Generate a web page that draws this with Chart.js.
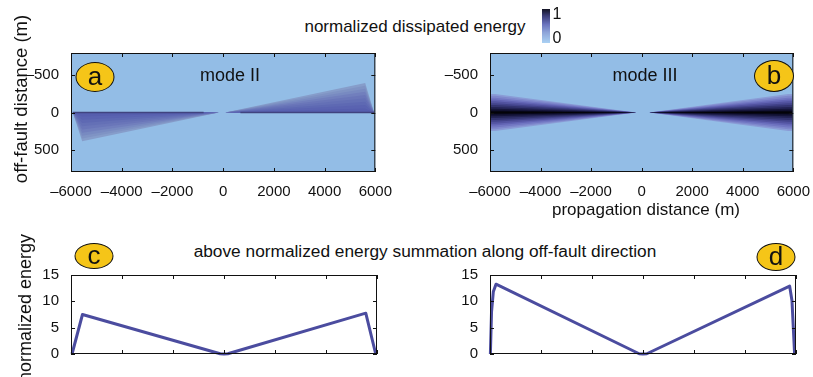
<!DOCTYPE html>
<html>
<head>
<meta charset="utf-8">
<script src="https://cdn.jsdelivr.net/npm/chart.js@4.4.1/dist/chart.umd.min.js"></script>
<style>
  body { margin: 0; width: 813px; height: 377px; overflow: hidden; background: #fff; position: relative;
         font-family: "Liberation Sans", Arial, sans-serif; color: #111; }
  canvas { position: absolute; }
  .txt { position: absolute; white-space: nowrap; font-size: 17px; transform: translate(-50%, -50%); }
  .rot { transform: translate(-50%, -50%) rotate(-90deg); }
  .tag { position: absolute; background: #f5c518; border: 1.5px solid #111; border-radius: 50%;
         box-sizing: border-box; transform: translate(-50%, -50%); font-size: 26px; line-height: 1;
         display: flex; align-items: center; justify-content: center; padding-bottom: 2px; }
  #cbar { position: absolute; left: 542px; top: 9px; width: 8px; height: 34px;
          background: linear-gradient(to top, #aad1f3, #8fa6da 30%, #6a73bd 55%, #3c3d78 80%, #141424); }
</style>
</head>
<body>

<canvas id="pa" width="395" height="170" style="left:0;top:40px"></canvas>
<canvas id="pb" width="413" height="170" style="left:400px;top:40px"></canvas>
<canvas id="pc" width="395" height="115" style="left:0;top:262px"></canvas>
<canvas id="pd" width="413" height="115" style="left:400px;top:262px"></canvas>

<div class="txt" style="left:415px;top:27px">normalized dissipated energy</div>
<div id="cbar"></div>
<div class="txt" style="left:557px;top:14px;font-size:16px">1</div>
<div class="txt" style="left:557px;top:38px;font-size:16px">0</div>
<div class="txt rot" style="left:21px;top:99px;font-size:18.5px">off-fault distance (m)</div>
<div class="txt" style="left:230px;top:75px;font-size:18px">mode II</div>
<div class="txt" style="left:645px;top:75px;font-size:18px">mode III</div>
<div class="txt" style="left:646px;top:210px">propagation distance (m)</div>
<div class="txt" style="left:425px;top:251px;font-size:17.3px">above normalized energy summation along off-fault direction</div>
<div class="txt rot" style="left:25px;top:308px;font-size:18px">normalized energy</div>

<div class="tag" style="left:95px;top:77px;width:39px;height:30px">a</div>
<div class="tag" style="left:774px;top:76px;width:40px;height:32px">b</div>
<div class="tag" style="left:94px;top:256px;width:39px;height:26px">c</div>
<div class="tag" style="left:776px;top:257px;width:39px;height:28px">d</div>

<script>
const xTicks = [-6000, -4000, -2000, 0, 2000, 4000, 6000];
const offTicks = [-500, 0, 500];
const energyTicks = [0, 5, 10, 15];

// mode II wedges (m): tip, corner, edge on the fault; corner height per shading level, outer to inner
const m2RightTip = 80, m2RightCorner = 5600, m2RightEdge = 5950;
const m2RightHeights = [395, 360, 320, 280, 235, 190, 145, 100, 55];
const m2LeftTip = -170, m2LeftCorner = -5560, m2LeftEdge = -5930;
const m2LeftHeights = [385, 350, 312, 272, 230, 185, 140, 98, 54];

// mode III wedges (m): symmetric about the fault, half-width at the far end per level, outer to inner
const m3RightTip = 300, m3LeftTip = -220, m3End = 5800, m3Edge = 5960;
const m3HalfWidths = [250, 225, 200, 175, 150, 125, 100, 75, 50, 28, 12];

// summed energy along off-fault direction
const cX = [-5960, -5550, -150, 0, 150, 5560, 5950];
const cY = [0, 7.5, 0.05, 0, 0.05, 7.75, 0];
const dX = [-5985, -5940, -5870, -5765, -150, 0, 150, 5750, 5843, 5945];
const dY = [0, 8, 11.8, 13.25, 0.05, 0, 0.05, 12.9, 10.1, 0];

const m2Colors = ['#869dca', '#7f93c4', '#788ac1', '#717fbd', '#6a76b9', '#6470b6', '#5e69b3', '#5a63b1', '#565eae'];
const m3Colors = ['#8a9cd6', '#7f88cc', '#7176c2', '#6264b4', '#5253a0', '#42438a', '#333470', '#242455',
                  '#15153a', '#0a0a20', '#030308'];

Chart.defaults.font.family = '"Liberation Sans", Arial, sans-serif';
Chart.defaults.font.size = 15;
Chart.defaults.color = '#111';

const pts = (xs, ys) => xs.map((x, i) => ({ x, y: ys[i] }));
const dash = v => (v < 0 ? '\u2013' + Math.abs(v) : '' + v);

// light blue field behind the plot, black box with inward ticks on all four sides
const frame = {
  id: 'frame',
  beforeDatasetsDraw(chart, args, opts) {
    if (!opts.bg) return;
    const a = chart.chartArea, ctx = chart.ctx;
    ctx.fillStyle = opts.bg;
    ctx.fillRect(a.left, a.top, a.width, a.height);
  },
  afterDraw(chart) {
    const a = chart.chartArea, ctx = chart.ctx, L = 4;
    const { x, y } = chart.scales;
    ctx.save();
    ctx.strokeStyle = '#111';
    ctx.lineWidth = 1;
    ctx.strokeRect(a.left + 0.5, a.top + 0.5, a.width - 1, a.height - 1);
    ctx.beginPath();
    x.ticks.forEach(t => {
      const p = Math.round(x.getPixelForValue(t.value)) + 0.5;
      ctx.moveTo(p, a.bottom); ctx.lineTo(p, a.bottom - L);
      ctx.moveTo(p, a.top); ctx.lineTo(p, a.top + L);
    });
    y.ticks.forEach(t => {
      const p = Math.round(y.getPixelForValue(t.value)) + 0.5;
      ctx.moveTo(a.left, p); ctx.lineTo(a.left + L, p);
      ctx.moveTo(a.right, p); ctx.lineTo(a.right - L, p);
    });
    ctx.stroke();
    ctx.restore();
  }
};

function makeChart(id, datasets, o) {
  datasets.forEach((d, i) => { d.order = datasets.length - i; });
  return new Chart(document.getElementById(id), {
    type: 'line',
    data: { datasets },
    options: {
      responsive: false,
      animation: false,
      layout: { padding: { left: 0, top: o.padTop, right: o.padRight, bottom: 0 } },
      elements: { point: { radius: 0 }, line: { tension: 0 } },
      plugins: { legend: { display: false }, tooltip: { enabled: false }, frame: { bg: o.bg } },
      scales: {
        x: {
          type: 'linear', min: -6000, max: 6000,
          grid: { display: false }, border: { display: false },
          afterBuildTicks: s => { s.ticks = xTicks.map(v => ({ value: v })); },
          afterFit: s => { s.height = o.axisH; },
          ticks: { display: o.xLabels, padding: 3, callback: dash, maxRotation: 0 }
        },
        y: {
          min: o.yMin, max: o.yMax, reverse: o.reverse,
          grid: { display: false }, border: { display: false },
          afterBuildTicks: s => { s.ticks = o.yTicks.map(v => ({ value: v })); },
          afterFit: s => { s.width = o.axisW; },
          ticks: { padding: 4, callback: dash }
        }
      }
    },
    plugins: [frame]
  });
}

function mode2Sets() {
  const sets = [];
  m2RightHeights.forEach((h, i) => sets.push({
    data: pts([m2RightTip, m2RightCorner, m2RightEdge], [0, -h, 0]),
    fill: { value: 0 }, backgroundColor: m2Colors[i], borderWidth: 0
  }));
  m2LeftHeights.forEach((h, i) => sets.push({
    data: pts([m2LeftTip, m2LeftCorner, m2LeftEdge], [0, h, 0]),
    fill: { value: 0 }, backgroundColor: m2Colors[i], borderWidth: 0
  }));
  sets.push({ data: pts([m2RightTip + 600, m2RightEdge], [0, 0]), borderColor: '#40437f', borderWidth: 1.5, fill: false });
  sets.push({ data: pts([m2LeftTip - 600, m2LeftEdge], [0, 0]), borderColor: '#40437f', borderWidth: 1.5, fill: false });
  return sets;
}

function mode3Sets() {
  const sets = [];
  m3HalfWidths.forEach((w, i) => {
    [[m3RightTip, m3End, m3Edge], [m3LeftTip, -m3End, -m3Edge]].forEach(xs => {
      sets.push({ data: pts(xs, [0, -w, -w]), fill: '+1', backgroundColor: m3Colors[i], borderWidth: 0 });
      sets.push({ data: pts(xs, [0, w, w]), fill: false, borderWidth: 0 });
    });
  });
  return sets;
}

const lineStyle = { borderColor: '#4b4c9f', borderWidth: 3, fill: false, borderJoinStyle: 'round', clip: 3 };

makeChart('pa', mode2Sets(), { padTop: 13, padRight: 18, axisW: 71, axisH: 38, xLabels: true,
  yMin: -800, yMax: 800, reverse: true, yTicks: offTicks, bg: '#93bde6' });
makeChart('pb', mode3Sets(), { padTop: 13, padRight: 17, axisW: 90, axisH: 38, xLabels: true,
  yMin: -800, yMax: 800, reverse: true, yTicks: offTicks, bg: '#93bde6' });
makeChart('pc', [Object.assign({ data: pts(cX, cY) }, lineStyle)], { padTop: 12, padRight: 18, axisW: 71, axisH: 23,
  xLabels: false, yMin: 0, yMax: 15, reverse: false, yTicks: energyTicks });
makeChart('pd', [Object.assign({ data: pts(dX, dY) }, lineStyle)], { padTop: 12, padRight: 17, axisW: 90, axisH: 23,
  xLabels: false, yMin: 0, yMax: 15, reverse: false, yTicks: energyTicks });
</script>
</body>
</html>
